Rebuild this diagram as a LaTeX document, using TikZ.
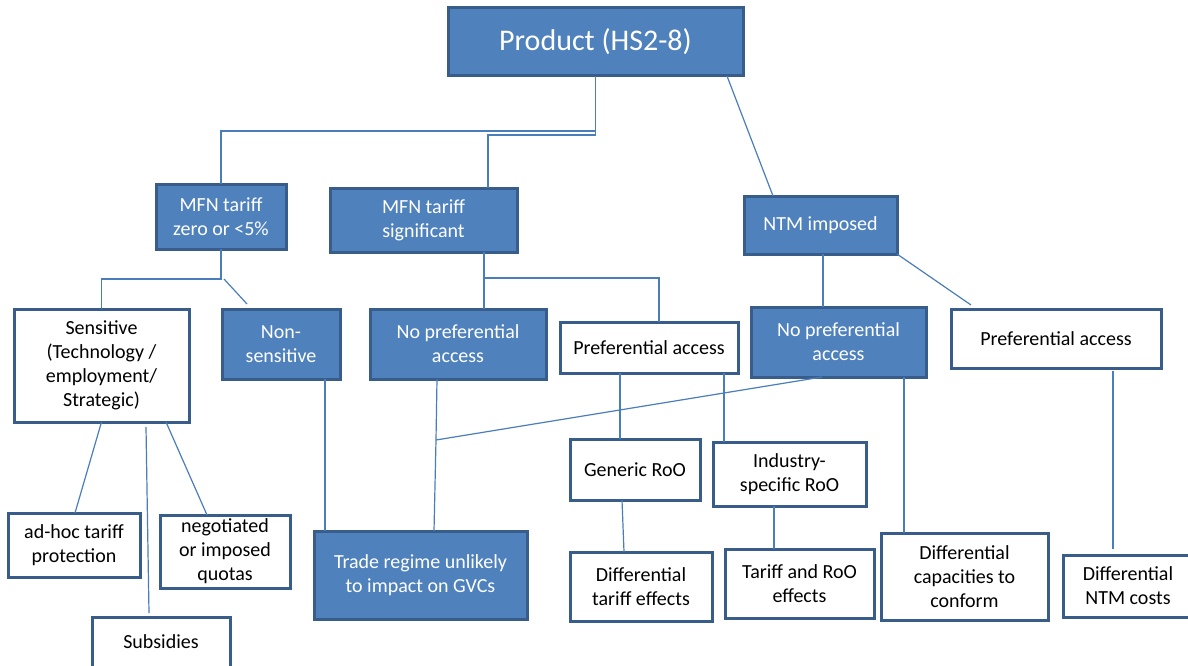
\documentclass[tikz,border=0pt]{standalone}
\usepackage{fontspec}
\setmainfont{Carlito}
\definecolor{boxblue}{HTML}{4F81BD}
\definecolor{edgeblue}{HTML}{385D8A}
\definecolor{linkblue}{HTML}{4A7EBB}
\tikzset{
  basebox/.style={draw=edgeblue, line width=3pt, inner sep=0pt, outer sep=0pt, align=center,
    font=\fontsize{20pt}{24pt}\selectfont},
  bluebox/.style={basebox, fill=boxblue, text=white},
  whitebox/.style={basebox, fill=white, text=black},
  link/.style={draw=linkblue, line width=1.2pt},
}
\begin{document}
\begin{tikzpicture}[x=1pt, y=-1pt]
\useasboundingbox (0,0) rectangle (1188,666);
\clip (0,0) rectangle (1188,666);
\fill[white] (0,0) rectangle (1188,666);

% nodes
\node[bluebox, minimum width=295pt, minimum height=68pt, font=\fontsize{30pt}{36pt}\selectfont] (prod) at (595.5,42) {\raisebox{-2pt}{Product (HS2-8)}};
\node[bluebox, minimum width=130pt, minimum height=65pt] (mfn0) at (221,216.5) {MFN tariff\\zero or <5\%};
\node[bluebox, minimum width=187pt, minimum height=64pt] (mfns) at (423.5,220) {MFN tariff\\significant};
\node[bluebox, minimum width=153pt, minimum height=58pt] (ntm) at (820.5,225) {NTM imposed};
\node[whitebox, minimum width=175pt, minimum height=113pt] (sens) at (101.5,365.5) {Sensitive\\(Technology /\\employment/\\Strategic)};
\node[bluebox, minimum width=118pt, minimum height=70pt] (nons) at (281,344) {Non-\\sensitive};
\node[bluebox, minimum width=176pt, minimum height=70pt] (nop1) at (458,344) {No preferential\\access};
\node[whitebox, minimum width=178pt, minimum height=51pt] (pa1) at (649,347.5) {Preferential access};
\node[bluebox, minimum width=175pt, minimum height=70pt] (nop2) at (838.5,342) {No preferential\\access};
\node[whitebox, minimum width=210pt, minimum height=59pt] (pa2) at (1056,338.5) {Preferential access};
\node[whitebox, minimum width=130pt, minimum height=61pt] (gen) at (635,469.5) {Generic RoO};
\node[whitebox, minimum width=153pt, minimum height=64pt] (ind) at (789.5,474) {Industry-\\specific RoO};
\node[whitebox, minimum width=132pt, minimum height=64pt] (adhoc) at (74,545) {ad-hoc tariff\\protection};
\node[whitebox, minimum width=130pt, minimum height=73pt] (nego) at (225,551.5) {negotiated\\or imposed\\quotas};
\node[bluebox, minimum width=213pt, minimum height=88pt] (trade) at (420.5,575) {Trade regime unlikely\\to impact on GVCs};
\node[whitebox, minimum width=142pt, minimum height=69pt] (dtar) at (641,586.5) {Differential\\tariff effects};
\node[whitebox, minimum width=149pt, minimum height=69pt] (troo) at (799.5,583.5) {Tariff and RoO\\effects};
\node[whitebox, minimum width=167pt, minimum height=87pt] (dcap) at (964.5,576.5) {Differential\\capacities to\\conform};
\node[whitebox, minimum width=130pt, minimum height=62pt] (dntm) at (1128,586) {Differential\\NTM costs};
\node[whitebox, minimum width=138pt, minimum height=50pt] (subs) at (161,642) {Subsidies};

% junctions
\coordinate (j1) at (221,279);
\coordinate (j2) at (484,278);
\coordinate (j3) at (436,440);

% connectors
\draw[link] (prod.south) -- ++(0,55) -| (mfn0.north);
\draw[link] (prod.south) -- ++(0,59) -| ([xshift=64.5pt]mfns.north);
\draw[link] ([xshift=131.5pt]prod.south) -- ([xshift=-47.5pt]ntm.north);
\draw[link] (mfn0.south) -- (j1) -| (sens.north);
\draw[link] ([xshift=3pt]j1) -- ([xshift=-34pt,yshift=5pt]nons.north);
\draw[link] ([xshift=60.5pt]mfns.south) -- (j2) -- (j2 |- nop1.north);
\draw[link] (j2) -| ([xshift=10pt]pa1.north);
\draw[link] ([xshift=2.5pt]ntm.south) -- ([xshift=2.5pt]ntm.south |- nop2.north);
\draw[link] (ntm.south east) -- ([xshift=-85pt,yshift=4pt]pa2.north);
\draw[link] (sens.south) -- ([xshift=1pt]adhoc.north);
\draw[link] ([xshift=44.5pt,yshift=-5pt]sens.south) -- ([xshift=-12pt,yshift=4pt]subs.north);
\draw[link] ([xshift=64.5pt]sens.south) -- ([xshift=-18pt]nego.north);
\draw[link] ([xshift=44pt]nons.south) -- ([xshift=44pt]nons.south |- trade.north);
\draw[link] ([xshift=-21pt]nop1.south) -- (j3) -- ([xshift=13.5pt]trade.north);
\draw[link] ([xshift=-16.5pt]nop2.south) -- (j3);
\draw[link] ([xshift=-29pt]pa1.south) -- ([xshift=-15pt]gen.north);
\draw[link] ([xshift=75pt]pa1.south) -- ([xshift=-65.5pt]ind.north);
\draw[link] ([xshift=65.5pt]nop2.south) -- ([xshift=-60.5pt]dcap.north);
\draw[link] ([xshift=57pt,yshift=-3pt]pa2.south) -- ([xshift=-15pt,yshift=6pt]dntm.north);
\draw[link] ([xshift=-13pt]gen.south) -- ([xshift=-17pt]dtar.north);
\draw[link] ([xshift=-15.5pt]ind.south) -- ([xshift=-25.5pt]troo.north);
\end{tikzpicture}
\end{document}
